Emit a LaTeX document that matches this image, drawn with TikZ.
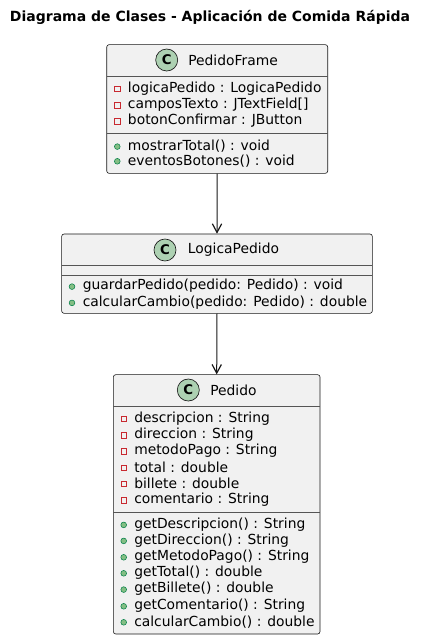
\documentclass[tikz,border=0pt]{standalone}
\usepackage{fontspec}
\setmainfont{DejaVu Sans}
\usepackage{tikz}
\usetikzlibrary{arrows.meta}

\definecolor{boxfill}{HTML}{F1F1F1}
\definecolor{boxline}{HTML}{181818}
\definecolor{sepline}{HTML}{555555}
\definecolor{spotfill}{HTML}{ADD1B2}
\definecolor{privred}{HTML}{C82930}
\definecolor{pubfill}{HTML}{84BE84}
\definecolor{publine}{HTML}{038048}

\begin{document}
\begin{tikzpicture}[
    x=0.75pt, y=-0.75pt,
    classbox/.style={rectangle, draw=boxline, fill=boxfill, line width=0.45pt,
        rounded corners=1.8pt, inner sep=0pt},
    spot/.style={circle, draw=boxline, fill=spotfill, line width=0.5pt,
        minimum size=16.5pt, inner sep=0pt, font=\fontsize{10}{12}\selectfont\bfseries},
    member/.style={anchor=west, inner sep=0pt, font=\fontsize{10.4}{12}\selectfont},
    cname/.style={anchor=west, inner sep=0pt, font=\fontsize{10.4}{12}\selectfont},
    priv/.style={rectangle, draw=privred, line width=0.5pt, fill=none,
        minimum size=4.1pt, inner sep=0pt},
    pub/.style={circle, draw=publine, fill=pubfill, line width=0.4pt,
        minimum size=4.3pt, inner sep=0pt},
    sep/.style={draw=sepline, line width=0.45pt},
    assoc/.style={draw=boxline, line width=0.75pt,
        -{Straight Barb[length=6.5pt,width=7pt,line width=0.9pt]}}
]
    \useasboundingbox (0,0) rectangle (427,640);

    % title
    \node[font=\fontsize{10.5}{12}\selectfont\bfseries] (title) at (210,17.7)
        {Diagrama de Clases - Aplicación de Comida Rápida};

    % PedidoFrame
    \node[classbox, minimum width=165.75pt, minimum height=96.5pt] (frame) at (217.2,109) {};
    \node[spot] (frameC) at (166.7,60) {C};
    \node[cname] (frameName) at (188,60) {PedidoFrame};
    \draw[sep] (107,76) -- (327.5,76);
    \draw[sep] (107,133.3) -- (327.5,133.3);
    \foreach \y/\t in {88.3/logicaPedido : LogicaPedido,
                       105/camposTexto : JTextField[],
                       120.7/botonConfirmar : JButton}{
        \node[priv] at (117.3,\y+0.4) {};
        \node[member] at (127.7,\y) {\t};
    }
    \foreach \y/\t in {146/mostrarTotal() : void,
                       160.7/eventosBotones() : void}{
        \node[pub] at (117.3,\y+0.6) {};
        \node[member] at (127.7,\y) {\t};
    }

    % LogicaPedido
    \node[classbox, minimum width=233pt, minimum height=59.5pt] (logica) at (217,273.65) {};
    \node[spot] (logicaC) at (165,250) {C};
    \node[cname] (logicaName) at (187.7,250) {LogicaPedido};
    \draw[sep] (61.7,265.7) -- (372.3,265.7);
    \draw[sep] (61.7,275) -- (372.3,275);
    \foreach \y/\t in {286/guardarPedido(pedido: Pedido) : void,
                       302.3/calcularCambio(pedido: Pedido) : double}{
        \node[pub] at (72,\y+0.6) {};
        \node[member] at (82.5,\y) {\t};
    }

    % Pedido
    \node[classbox, minimum width=155pt, minimum height=194.5pt] (pedido) at (216.7,504.35) {};
    \node[spot] (pedidoC) at (188.3,390) {C};
    \node[cname] (pedidoName) at (210,390) {Pedido};
    \draw[sep] (113.3,406) -- (320,406);
    \draw[sep] (113.3,512.3) -- (320,512.3);
    \foreach \y/\t in {418.3/descripcion : String,
                       435/direccion : String,
                       451/metodoPago : String,
                       467.3/total : double,
                       483.3/billete : double,
                       500/comentario : String}{
        \node[priv] at (123.7,\y+0.4) {};
        \node[member] at (134,\y) {\t};
    }
    \foreach \y/\t in {524.3/getDescripcion() : String,
                       540.3/getDireccion() : String,
                       556.7/getMetodoPago() : String,
                       572.7/getTotal() : double,
                       589/getBillete() : double,
                       605.7/getComentario() : String,
                       621.7/calcularCambio() : double}{
        \node[pub] at (123.7,\y+0.6) {};
        \node[member] at (134,\y) {\t};
    }

    % relations
    \draw[assoc] (frame.south) -- (logica.north);
    \draw[assoc] (logica.south) -- (pedido.north);
\end{tikzpicture}
\end{document}
